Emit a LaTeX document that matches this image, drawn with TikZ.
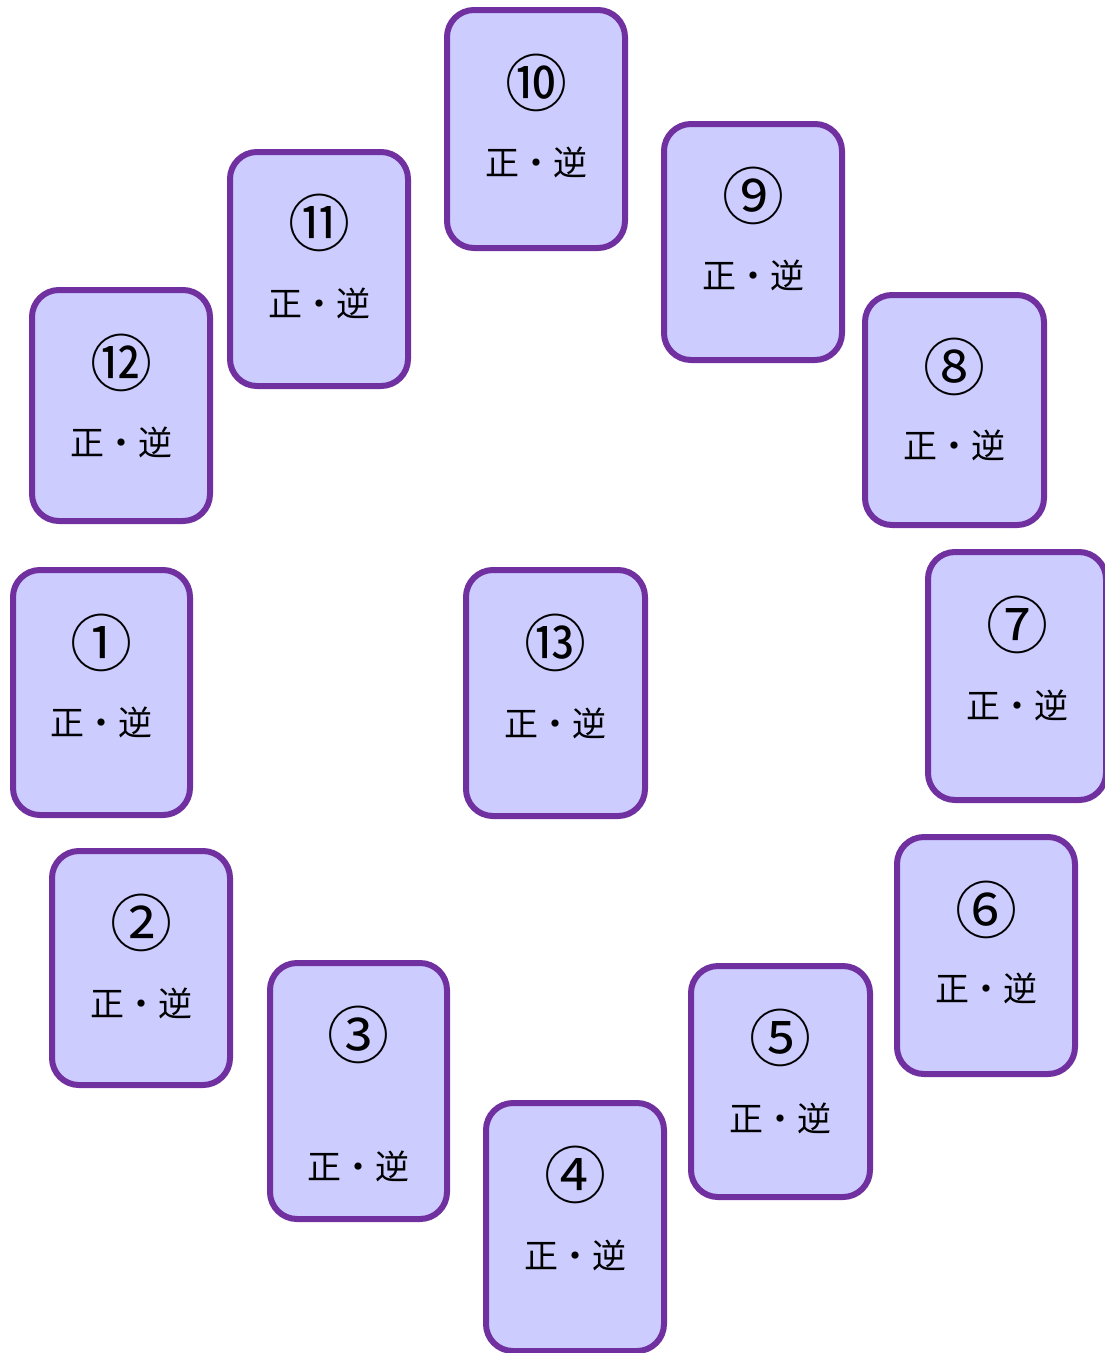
\documentclass[tikz,border=0pt]{standalone}
\usepackage{fontspec}
\newfontfamily\jp{Noto Sans CJK JP}
\definecolor{cardedge}{HTML}{7030A0}
\definecolor{cardfill}{HTML}{CCCCFF}
\tikzset{
  card/.style={draw=cardedge, fill=cardfill, line width=6pt, rounded corners=27pt, inner sep=0pt},
  cardnum/.style={inner sep=0pt, font=\jp\fontsize{62}{62}\selectfont},
  cardtext/.style={inner sep=0pt, font=\jp\fontsize{34}{34}\selectfont}
}
% #1 id, #2 cx, #3 cy, #4 w, #5 h, #6 number, #7 number y, #8 text y
\newcommand{\tarotcard}[8]{%
  \node[card, minimum width=#4pt-6pt, minimum height=#5pt-6pt] (c#1) at (#2,#3) {};
  \node[cardnum] (n#1) at (#2,#7) {#6};
  \node[cardtext] (t#1) at (#2,#8) {正・逆};
}
\begin{document}
\begin{tikzpicture}[x=1pt,y=-1pt]
\useasboundingbox (0,0) rectangle (1105,1353);
\tarotcard{1}{101.5}{692.5}{183}{251}{①}{643}{722}
\tarotcard{2}{141}{968}{184}{240}{②}{923}{1003}
\tarotcard{3}{358.5}{1091}{183}{262}{③}{1035}{1166}
\tarotcard{4}{575}{1227}{184}{254}{④}{1175}{1255}
\tarotcard{5}{780.5}{1081.5}{185}{237}{⑤}{1038}{1118}
\tarotcard{6}{986}{955.5}{184}{243}{⑥}{910}{988}
\tarotcard{7}{1017}{676}{184}{254}{⑦}{625}{705}
\tarotcard{8}{954.5}{410}{185}{236}{⑧}{367}{445}
\tarotcard{9}{753}{242}{184}{242}{⑨}{196}{275}
\tarotcard{10}{536}{129}{184}{244}{⑩}{83}{162}
\tarotcard{11}{319}{269}{184}{240}{⑪}{223}{303}
\tarotcard{12}{121}{405.5}{184}{237}{⑫}{363}{442}
\tarotcard{13}{555.5}{693}{185}{252}{⑬}{643}{723}
\end{tikzpicture}
\end{document}
